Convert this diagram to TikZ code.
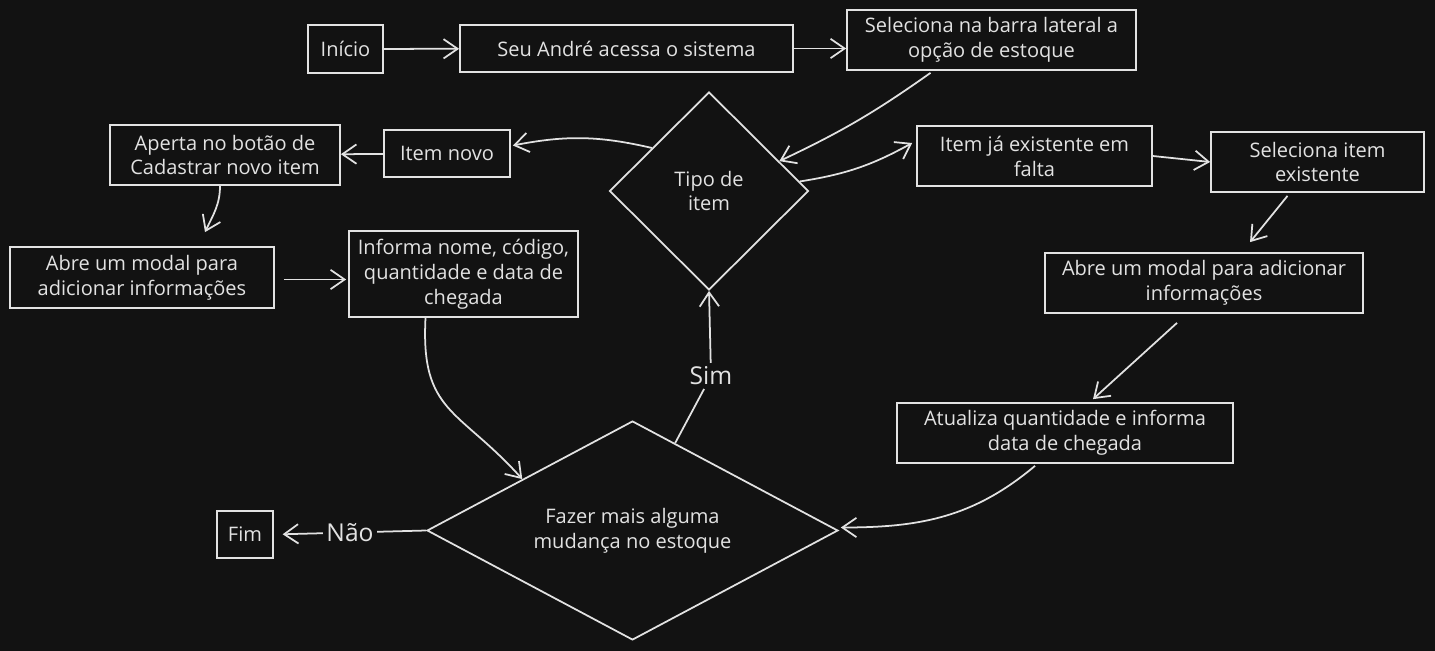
\documentclass[tikz,border=0pt]{standalone}
\usepackage{fontspec}
\setmainfont{Open Sans}
\usepackage{xcolor}
\usetikzlibrary{shapes.geometric, arrows.meta, positioning, calc}
\definecolor{bgdark}{HTML}{121212}
\definecolor{chalk}{HTML}{E2E2E2}

\begin{document}
\begin{tikzpicture}[
    x=0.02cm, y=-0.02cm,
    every node/.style={text=chalk, font=\fontsize{11.4}{14.2}\selectfont},
    box/.style={draw=chalk, line width=1pt, align=center, inner sep=0pt},
    decision/.style={diamond, draw=chalk, line width=1pt, align=center, inner sep=0pt},
    link/.style={draw=chalk, line width=1pt},
    arrow/.style={link, -{Straight Barb[length=8pt, width=11pt]}},
    tag/.style={fill=bgdark, inner sep=2pt, font=\fontsize{14}{16}\selectfont}
]

% Background
\fill[bgdark] (0,0) rectangle (1435,651);

% Boxes
\node[box, minimum width=1.5cm, minimum height=0.96cm] (inicio) at (345.5,49) {Início};
\node[box, minimum width=6.66cm, minimum height=0.94cm] (andre) at (626.5,48.5) {Seu André acessa o sistema};
\node[box, minimum width=5.78cm, minimum height=1.2cm] (selbarra) at (991.5,40) {Seleciona na barra lateral a\\opção de estoque};
\node[box, minimum width=2.52cm, minimum height=0.94cm] (inovo) at (447,153.5) {Item novo};
\node[box, minimum width=4.6cm, minimum height=1.2cm] (aperta) at (225,155) {Aperta no botão de\\Cadastrar novo item};
\node[box, minimum width=5.28cm, minimum height=1.22cm] (modalnovo) at (142,277.5) {Abre um modal para\\adicionar informações};
\node[box, minimum width=4.58cm, minimum height=1.72cm] (informa) at (463.5,274) {Informa nome, código,\\quantidade e data de\\chegada};
\node[box, minimum width=4.7cm, minimum height=1.2cm] (emfalta) at (1034.5,156) {Item já existente em\\falta};
\node[box, minimum width=4.26cm, minimum height=1.2cm] (selitem) at (1317.5,162) {Seleciona item\\existente};
\node[box, minimum width=6.36cm, minimum height=1.2cm] (modalexist) at (1204,283) {Abre um modal para adicionar\\informações};
\node[box, minimum width=6.72cm, minimum height=1.2cm] (atualiza) at (1065,433) {Atualiza quantidade e informa\\data de chegada};
\node[box, minimum width=1.12cm, minimum height=0.94cm] (fim) at (245,534.5) {Fim};

% Decisions
\node[decision, minimum width=3.98cm, minimum height=3.96cm] (tipo) at (709,191) {Tipo de\\item};
\node[decision, aspect=1.88, minimum width=8.22cm, minimum height=4.38cm] (fazer) at (632.5,530.5) {Fazer mais alguma\\mudança no estoque};

% Labels
\node[tag] (sim) at (711,376) {Sim};

% Arrows
\draw[arrow] (inicio) -- (andre);
\draw[arrow] (andre.east) -- (andre.east -| selbarra.west);
\draw[arrow] ($(selbarra.south)+(-61,2)$) to[bend left=5] (tipo.23);
\draw[arrow] (tipo.143) to[bend right=12] ($(inovo.east)+(2,-8)$);
\draw[arrow] (inovo) -- (aperta);
\draw[arrow] ($(aperta.south)+(-5,0)$) to[out=-90, in=65] ($(modalnovo.north)+(63,-14)$);
\draw[arrow] ($(modalnovo.east)+(9,2)$) -- ($(modalnovo.east -| informa.west)+(-2,2)$);
\draw[arrow] ($(informa.south)+(-38,0)$) to[out=-93, in=132, looseness=1.3] (fazer.155);
\draw[link] (fazer.64) -- (sim);
\draw[arrow] (sim) -- (tipo.south);
\draw[arrow, shorten >=5pt] (fazer.west) -- node[tag] {Não} (fim.east);
\draw[arrow] (tipo.6) to[bend right=10] ($(emfalta.west)+(-4,-13)$);
\draw[arrow] (emfalta.east) -- (selitem.west);
\draw[arrow] ($(selitem.south)+(-30,3)$) -- ($(modalexist.north)+(46,-10)$);
\draw[arrow] ($(modalexist.south)+(-27,9)$) -- ($(atualiza.north)+(28,-3)$);
\draw[arrow] ($(atualiza.south)+(-30,2)$) to[out=-140, in=0] ($(fazer.east)+(2,-3)$);

\end{tikzpicture}
\end{document}
